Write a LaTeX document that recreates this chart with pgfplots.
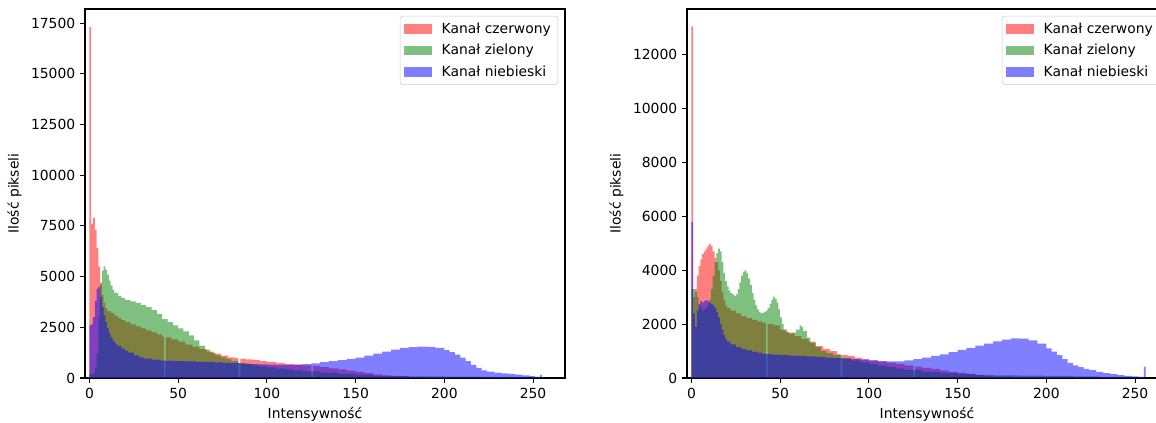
\documentclass[border=0pt]{standalone}
\usepackage{fontspec}
\setmainfont{DejaVu Sans}
\usepackage{pgfplots}
\pgfplotsset{compat=1.18}
\definecolor{mred}{rgb}{1,0,0}
\definecolor{mgreen}{rgb}{0,0.502,0}
\definecolor{mblue}{rgb}{0,0,1}
\pgfplotsset{
 hist/.style={const plot mark left, draw=none, fill opacity=0.5},
 myaxis/.style={scale only axis, width=345.6pt, height=265.68pt, anchor=south west,
   xmin=-2.5, xmax=268, ymin=0,
   xtick={0,50,...,250}, tick pos=left, tick align=outside,
   major tick length=3.5pt, every tick/.style={black, line width=0.8pt},
   axis line style={line width=0.8pt},
   /pgf/number format/assume math mode=true,
   yticklabel style={/pgf/number format/.cd, fixed, 1000 sep={}},
   scaled y ticks=false,
   xlabel={Intensywność}, ylabel={Ilość pikseli},
   legend cell align=left,
   legend style={at={(1,1)}, anchor=north east, xshift=-5pt, yshift=-5pt,
     draw=black!20, rounded corners=2pt, fill=white, inner xsep=3pt, inner ysep=2.5pt,
     row sep=2.5pt},
   legend image code/.code={\fill[##1, sharp corners] (0pt,-3.5pt) rectangle (20pt,3.5pt); \path (25pt,0pt);},
 }
}
\begin{document}
\begin{tikzpicture}
\clip[use as bounding box] (0,0) rectangle (832.32pt,304.56pt);
% ---------------- LEFT ----------------
\begin{axis}[myaxis, at={(61.2pt,32.4pt)}, ymax=18200, ytick={0,2500,...,17500},
  xlabel style={xshift=-7.2pt}]
\addplot[hist, fill=mred] coordinates {
(0,17300)(1,7600)(2,7900)(3,7300)(4,6400)(5,5500)(6,4700)(7,4100)(8,3700)(9,3450)
(10,3300)(12,3200)(14,3080)(16,2950)(18,2850)(20,2750)(23,2650)(26,2550)(29,2450)
(32,2350)(35,2250)(38,2150)(41,2050)(42,0)(43,2000)(46,1900)(50,1800)(54,1650)
(58,1550)(62,1420)(66,1300)(70,1200)(74,1100)(78,1020)(82,980)(84,0)(85,950)
(88,920)(92,880)(96,830)(100,790)(105,740)(110,700)(115,660)(120,620)(125,0)
(126,580)(130,540)(135,480)(140,420)(145,360)(150,300)(155,240)(160,180)(165,130)
(170,100)(180,60)(190,40)(200,30)(220,15)(240,5)(256,5)} \closedcycle;
\addlegendentry{Kanał czerwony}
\addplot[hist, fill=mgreen] coordinates {
(0,200)(1,150)(2,250)(3,500)(4,1200)(5,3000)(6,4600)(7,5300)(8,5500)(9,5350)
(10,5100)(11,4800)(12,4550)(13,4350)(14,4200)(16,4050)(18,3950)(20,3850)(23,3780)
(26,3700)(29,3600)(32,3500)(35,3350)(38,3150)(41,2900)(44,2750)(47,2600)(50,2450)
(53,2300)(56,2100)(59,1850)(62,1600)(65,1400)(68,1250)(71,1120)(74,1020)(77,940)
(80,850)(84,750)(88,680)(92,620)(96,570)(100,520)(105,460)(110,420)(115,370)
(120,330)(130,260)(140,200)(150,150)(160,110)(170,90)(180,80)(200,70)(220,50)
(240,25)(256,10)} \closedcycle;
\addlegendentry{Kanał zielony}
\addplot[hist, fill=mblue] coordinates {
(0,2600)(1,2650)(2,3000)(3,3800)(4,4400)(5,4500)(6,4000)(7,3500)(8,3100)(9,2750)
(10,2450)(11,2200)(12,2000)(13,1850)(14,1750)(15,1650)(16,1580)(18,1450)(20,1350)
(22,1250)(25,1120)(28,1020)(31,950)(35,900)(40,860)(45,840)(50,830)(55,820)(60,800)
(65,790)(70,770)(75,750)(80,730)(85,710)(90,690)(95,670)(100,660)(105,650)(110,650)
(115,660)(120,680)(125,720)(130,780)(135,830)(140,880)(145,940)(150,1010)(155,1100)
(160,1200)(165,1300)(170,1400)(175,1480)(180,1520)(185,1550)(190,1540)(195,1480)
(200,1380)(203,1280)(206,1150)(209,1000)(212,830)(215,650)(218,500)(221,380)
(224,310)(228,260)(232,230)(236,200)(240,170)(244,130)(248,90)(251,50)(254,150)
(255,20)(256,20)} \closedcycle;
\addlegendentry{Kanał niebieski}
\end{axis}
% ---------------- RIGHT ----------------
\begin{axis}[myaxis, at={(494.64pt,32.4pt)}, ymax=13700, ytick={0,2000,...,12000}]
\addplot[hist, fill=mred] coordinates {
(0,13050)(1,3000)(2,3300)(3,3800)(4,4150)(5,4400)(6,4600)(7,4700)(8,4800)(9,4900)
(10,4970)(11,4900)(12,4700)(13,4450)(14,4300)(15,4000)(16,3600)(17,3200)(18,2900)
(19,2700)(20,2600)(22,2500)(25,2400)(28,2300)(31,2220)(34,2160)(37,2100)(40,2050)
(42,0)(43,2000)(46,1950)(50,1800)(54,1680)(58,1550)(62,1450)(66,1350)(70,1180)
(74,1080)(78,1000)(82,900)(84,0)(85,860)(88,820)(92,760)(96,700)(100,650)(105,610)
(110,570)(115,520)(120,470)(125,0)(126,420)(130,380)(135,330)(140,280)(145,230)
(150,190)(155,150)(160,110)(165,80)(170,60)(180,40)(200,25)(220,15)(240,5)(256,5)} \closedcycle;
\addlegendentry{Kanał czerwony}
\addplot[hist, fill=mgreen] coordinates {
(0,3300)(1,3300)(2,3200)(3,3000)(4,2700)(5,2600)(6,2500)(7,2550)(8,2600)(9,2700)
(10,2900)(11,3300)(12,3800)(13,4300)(14,4650)(15,4800)(16,4700)(17,4300)(18,3900)
(19,3600)(20,3400)(21,3250)(22,3150)(23,3100)(24,3050)(25,3100)(26,3300)(27,3550)
(28,3800)(29,3950)(30,4000)(31,3900)(32,3700)(33,3450)(34,3150)(35,2900)(36,2700)
(37,2550)(38,2450)(39,2400)(40,2420)(41,2450)(42,2500)(43,2600)(44,2750)(45,2900)
(46,3000)(47,2950)(48,2800)(49,2550)(50,2250)(51,2000)(52,1800)(53,1700)(55,1650)
(57,1680)(59,1800)(61,1950)(62,1900)(63,1750)(65,1500)(67,1300)(70,1150)(73,1000)
(76,920)(80,850)(85,750)(90,650)(95,580)(100,520)(105,460)(110,400)(115,350)
(120,300)(130,230)(140,180)(150,150)(160,120)(170,100)(185,90)(200,80)(215,60)
(230,40)(245,20)(256,10)} \closedcycle;
\addlegendentry{Kanał zielony}
\addplot[hist, fill=mblue] coordinates {
(0,5800)(1,2400)(2,1900)(3,2500)(4,2750)(5,2850)(6,2800)(7,2850)(8,2900)(9,2850)
(10,2800)(11,2750)(12,2700)(13,2600)(14,2450)(15,2250)(16,2000)(17,1800)(18,1600)
(19,1450)(20,1350)(22,1250)(25,1150)(28,1080)(31,1030)(34,980)(37,940)(40,900)
(45,870)(50,850)(55,830)(60,820)(65,800)(70,780)(75,760)(80,740)(85,720)(90,700)
(95,680)(100,650)(105,630)(110,620)(115,620)(120,650)(125,700)(130,760)(135,820)
(140,880)(145,960)(150,1040)(155,1120)(160,1200)(165,1280)(170,1360)(175,1420)
(180,1470)(185,1460)(190,1400)(195,1280)(200,1100)(203,980)(206,850)(209,700)
(212,560)(215,470)(218,400)(221,340)(224,290)(228,230)(232,180)(236,140)(240,110)
(244,80)(248,60)(252,40)(255,420)(256,420)} \closedcycle;
\addlegendentry{Kanał niebieski}
\end{axis}
\end{tikzpicture}
\end{document}
